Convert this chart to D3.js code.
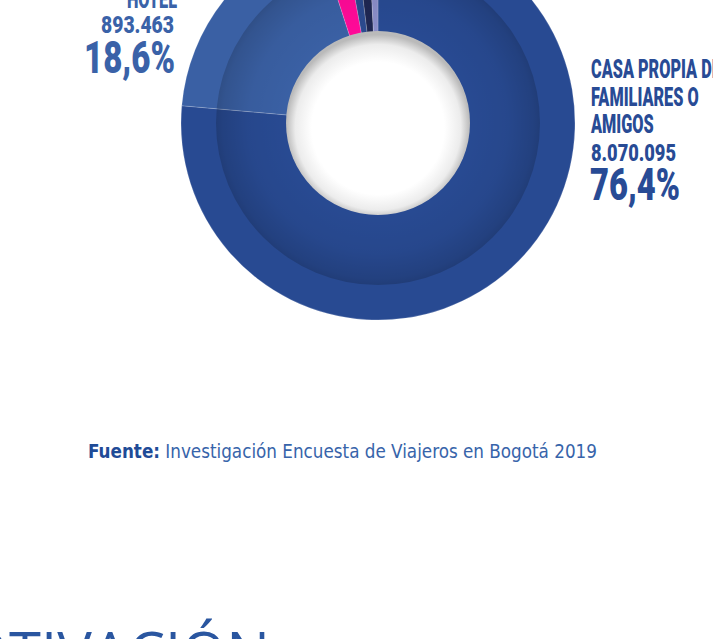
<!DOCTYPE html>
<html>
<head>
<meta charset="utf-8">
<script src="https://cdn.jsdelivr.net/npm/d3@7"></script>
<style>
  html, body { margin: 0; padding: 0; background: #ffffff; overflow: hidden; }
  .lbl { font-family: Roboto, "DejaVu Sans Condensed", sans-serif; font-weight: 900; }
</style>
</head>
<body>
<div id="chart"></div>
<script>
// datos del grafico (tipo de alojamiento)
const categories = ["Casa propia de familiares o amigos", "Hotel", "Apartamento / casa alquilada", "Hostal", "Otro", "No informa"];
const percents = [76.4, 18.6, 2.1, 1.0, 1.1, 0.8];
const counts = ["8.070.095", "893.463", "", "", "", ""];
const colours = ["#284a92", "#3a60a4", "#ff0a98", "#2b4a8e", "#1f2752", "#8a8dc8"];
const labelLines = [["CASA PROPIA DE", "FAMILIARES O", "AMIGOS"], ["HOTEL"], [], [], [], []];

const width = 713, height = 639;
const cx = 378, cy = 123;
const rOuter = 197, rMid = 162, rHole = 92;
const squeeze = 0.65; // letra condensada

const svg = d3.select("#chart").append("svg").attr("width", width).attr("height", height);
const defs = svg.append("defs");

// sombra del anillo interior
const ringGrad = defs.append("radialGradient").attr("id", "ringShade");
ringGrad.append("stop").attr("offset", 0.57).attr("stop-color", "#000").attr("stop-opacity", 0);
ringGrad.append("stop").attr("offset", 0.8).attr("stop-color", "#000").attr("stop-opacity", 0.04);
ringGrad.append("stop").attr("offset", 0.96).attr("stop-color", "#000").attr("stop-opacity", 0.13);
ringGrad.append("stop").attr("offset", 1).attr("stop-color", "#000").attr("stop-opacity", 0.18);

// hueco blanco con borde gris
const holeGrad = defs.append("radialGradient").attr("id", "holeShade")
  .attr("cx", "50%").attr("cy", "52%").attr("r", "50%").attr("fx", "50%").attr("fy", "55%");
holeGrad.append("stop").attr("offset", 0).attr("stop-color", "#ffffff");
holeGrad.append("stop").attr("offset", 0.72).attr("stop-color", "#ffffff");
holeGrad.append("stop").attr("offset", 0.9).attr("stop-color", "#ececec");
holeGrad.append("stop").attr("offset", 1).attr("stop-color", "#bababa");

const data = categories.map((c, i) => ({ name: c, value: percents[i], count: counts[i], colour: colours[i], lines: labelLines[i] }));

const pie = d3.pie().sort(null).value(d => d.value).startAngle(0).endAngle(2 * Math.PI);
const arcs = pie(data);
const arc = d3.arc().innerRadius(rHole - 1).outerRadius(rOuter);

const g = svg.append("g").attr("transform", `translate(${cx},${cy})`);

g.selectAll("path.slice").data(arcs).enter().append("path")
  .attr("class", "slice")
  .attr("d", arc)
  .style("fill", d => d.data.colour)
  .style("stroke", "rgba(255,255,255,0.3)")
  .style("stroke-width", 0.6);

g.append("circle").attr("r", rMid).style("fill", "url(#ringShade)");
g.append("circle").attr("r", rHole).style("fill", "url(#holeShade)");

// etiquetas
const fmt = d3.format(".1f");
const pct = v => fmt(v).replace(".", ",") + "%";

function word(parent, x, y, size, txt) {
  return parent.append("g").attr("transform", `translate(${x},${y}) scale(${squeeze},1)`)
    .append("text").style("font-size", size + "px").text(txt);
}
function num(parent, x, y, size, len, txt) {
  return parent.append("text").attr("x", x).attr("y", y).style("font-size", size + "px")
    .attr("textLength", len).attr("lengthAdjust", "spacingAndGlyphs").text(txt);
}

// Hotel (izquierda, alineado a la derecha)
const hotel = data[1];
const lt = svg.append("g").attr("class", "lbl").style("fill", "#3a62a8").style("text-anchor", "end");
hotel.lines.forEach((l, i) => word(lt, 177, 8 - (hotel.lines.length - 1 - i) * 28, 25, l));
num(lt, 174, 33, 24, 73, hotel.count);
num(lt, 175, 73, 45, 91, pct(hotel.value));

// Casa propia (derecha)
const casa = data[0];
const rt = svg.append("g").attr("class", "lbl").style("fill", "#284b95").style("text-anchor", "start");
casa.lines.forEach((l, i) => word(rt, 591, 78 + i * 27.7, 25, l));
num(rt, 591, 161, 24, 85, casa.count);
num(rt, 590, 200, 45, 90, pct(casa.value));

// fuente
const src = svg.append("text").attr("x", 88).attr("y", 458)
  .style("font-family", "'DejaVu Sans Condensed', sans-serif")
  .style("font-size", "20px")
  .attr("textLength", 509).attr("lengthAdjust", "spacingAndGlyphs");
src.append("tspan").style("font-weight", "bold").style("fill", "#1f4b97").text("Fuente:");
src.append("tspan").style("fill", "#3764aa").text(" Investigación Encuesta de Viajeros en Bogotá 2019");

// titulo de la siguiente seccion (cortado)
svg.append("text").attr("x", 270).attr("y", 674)
  .style("text-anchor", "end")
  .style("font-family", "'Open Sans', sans-serif")
  .style("font-size", "58px")
  .style("fill", "#2a56a0")
  .text("MOTIVACIÓN");
</script>
</body>
</html>
